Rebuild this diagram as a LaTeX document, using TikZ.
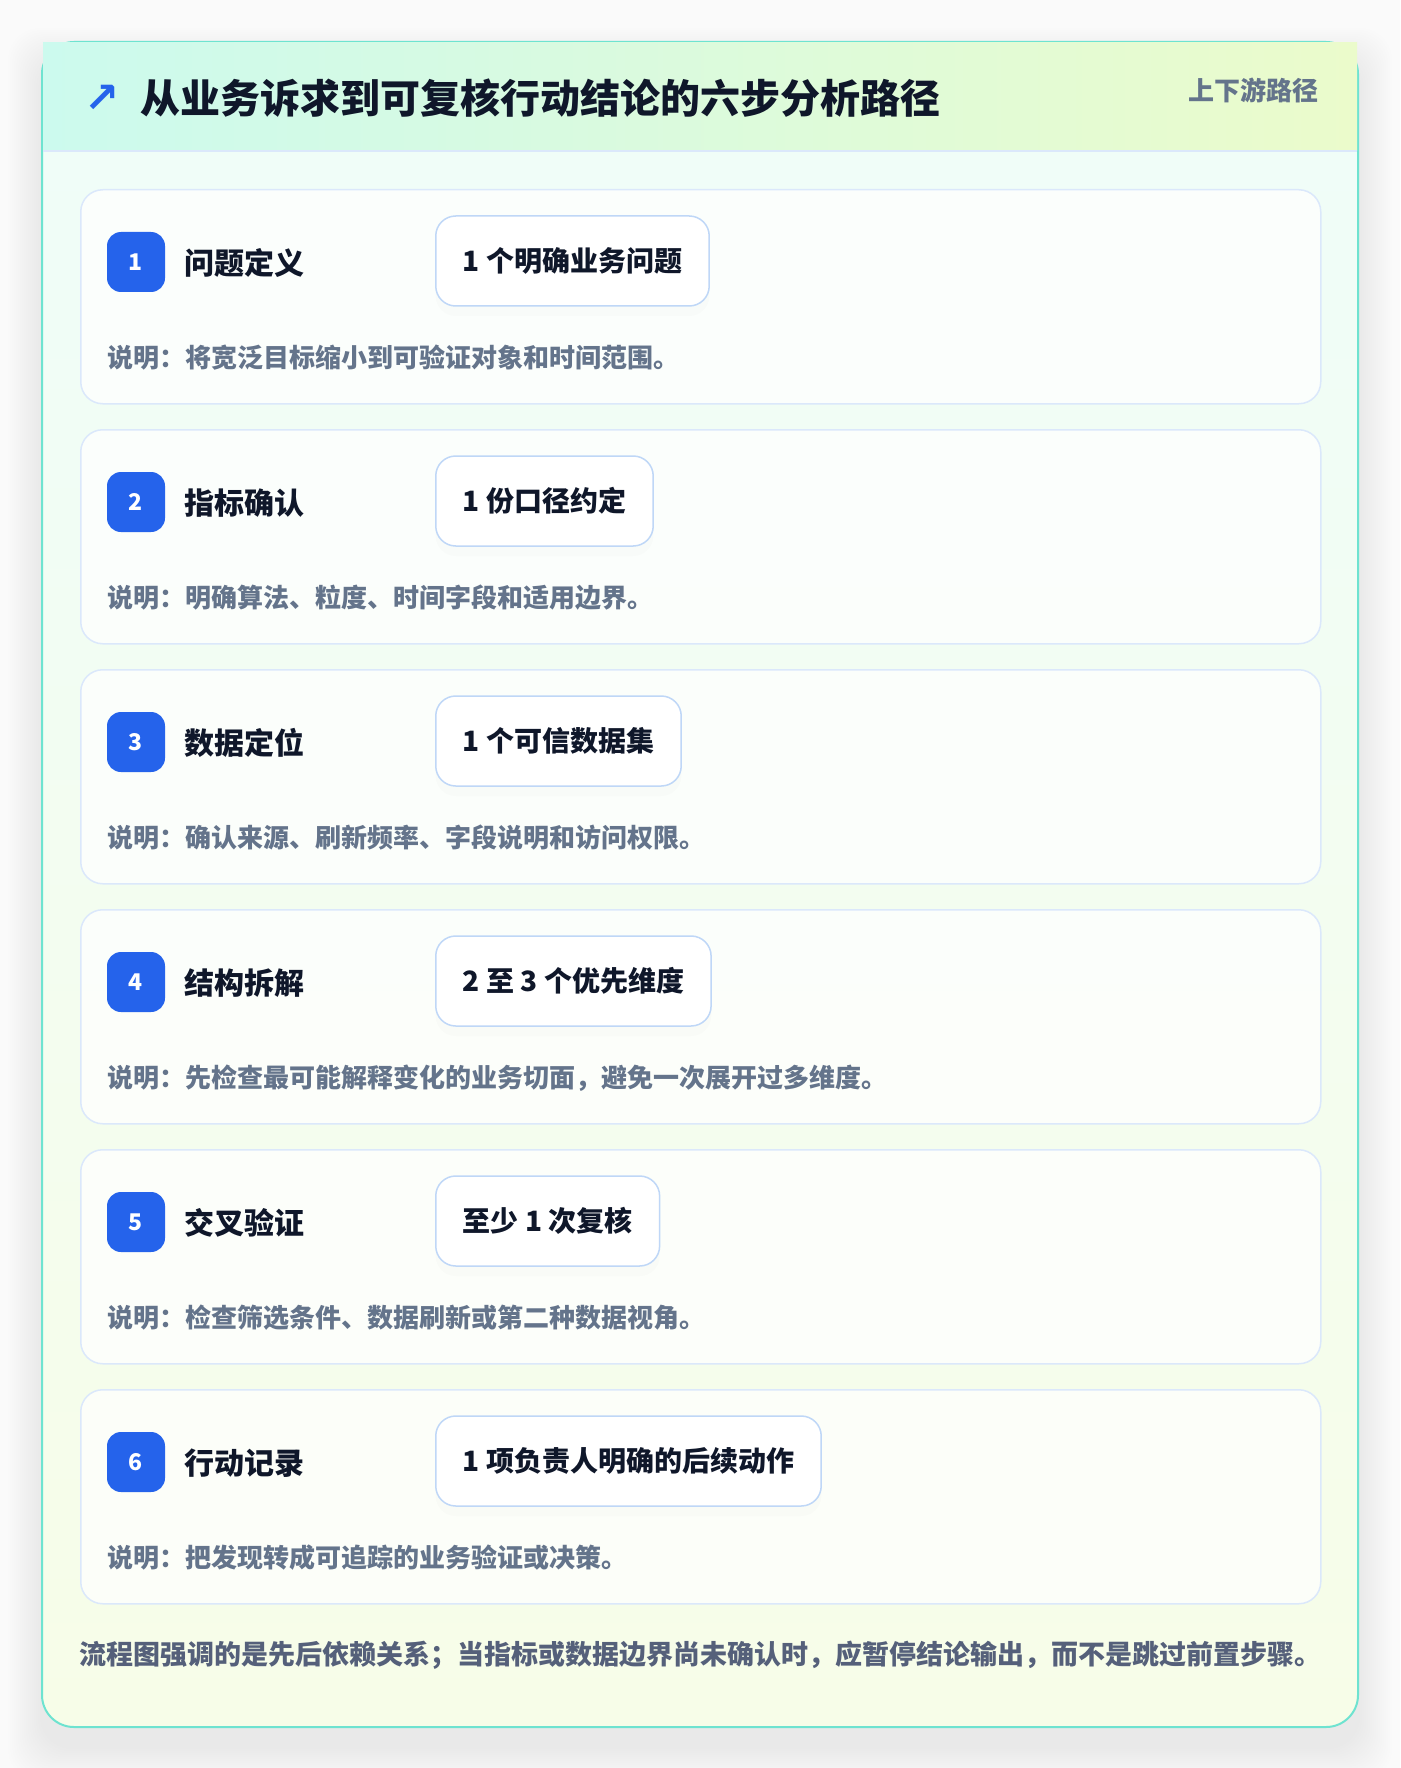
\documentclass[tikz,border=0pt]{standalone}
\usepackage{fontspec}
\setmainfont{Noto Sans CJK SC}
\newfontfamily\symfont{DejaVu Sans}
\usetikzlibrary{shadows}
\definecolor{pagebg}{HTML}{FAFAFA}
\definecolor{tealline}{HTML}{6EE3D0}
\definecolor{bodytop}{HTML}{EFFDF9}
\definecolor{bodybot}{HTML}{F7FDE8}
\definecolor{headl}{HTML}{CCFAEE}
\definecolor{headr}{HTML}{EBFBCB}
\definecolor{cardline}{HTML}{DBE8FB}
\definecolor{pillline}{HTML}{BFD7F7}
\definecolor{badgeblue}{HTML}{2563EB}
\definecolor{ink}{HTML}{0F172A}
\definecolor{slate}{HTML}{64748B}
\definecolor{notegray}{HTML}{55607A}
\tikzset{
  card/.style={draw=cardline, line width=1.5pt, fill=white, fill opacity=.75,
    rounded corners=22pt, minimum width=1240pt, minimum height=214pt,
    anchor=north west, inner sep=0pt},
  badge/.style={fill=badgeblue, rounded corners=14pt, minimum width=58pt,
    minimum height=60pt, inner sep=0pt, text=white,
    font=\bfseries\fontsize{23}{23}\selectfont},
  steptitle/.style={anchor=west, inner sep=0pt, text=ink,
    font=\bfseries\fontsize{30}{36}\selectfont},
  pillbox/.style={draw=pillline, line width=1.5pt, fill=white, rounded corners=20pt,
    minimum height=90pt, inner xsep=27pt, anchor=west, text=ink,
    font=\bfseries\fontsize{28}{34}\selectfont,
    drop shadow={opacity=.025, shadow xshift=0pt, shadow yshift=-10pt}},
  desc/.style={anchor=west, inner sep=0pt, text=slate,
    font=\bfseries\fontsize{26}{30}\selectfont}
}
\begin{document}
\begin{tikzpicture}[x=1pt,y=-1pt]
  \fill[pagebg] (0,0) rectangle (1400,1768);
  \useasboundingbox (0,0) rectangle (1400,1768);
  % soft shadow under the panel
  \foreach \s in {2,4,...,34}
    \fill[black, opacity=.005, rounded corners=32pt]
      ({42-\s},{62-\s}) rectangle ({1358+\s},{1747+\s});
  \shade[draw=tealline, line width=2pt, top color=bodytop, bottom color=bodybot,
    rounded corners=32pt] (42,42) rectangle (1358,1727);
  \shade[left color=headl, right color=headr] (43,43) rectangle (1357,151);
  \draw[cardline, line width=2pt] (43,151) -- (1357,151);
  \node[text=badgeblue, font=\symfont\bfseries\fontsize{42}{42}\selectfont, inner sep=0pt]
    (icon) at (102,99) {↗};
  \node[anchor=west, inner sep=0pt, text=ink, font=\bfseries\fontsize{40}{48}\selectfont]
    (title) at (140,98) {从业务诉求到可复核行动结论的六步分析路径};
  \node[anchor=east, inner sep=0pt, text=slate, font=\bfseries\fontsize{26}{30}\selectfont]
    (tag) at (1319,90) {上下游路径};
  % six steps
  \foreach \name/\pill/\desc [count=\n] in {
      问题定义/1 个明确业务问题/将宽泛目标缩小到可验证对象和时间范围。,
      指标确认/1 份口径约定/明确算法、粒度、时间字段和适用边界。,
      数据定位/1 个可信数据集/确认来源、刷新频率、字段说明和访问权限。,
      结构拆解/2 至 3 个优先维度/先检查最可能解释变化的业务切面，避免一次展开过多维度。,
      交叉验证/至少 1 次复核/检查筛选条件、数据刷新或第二种数据视角。,
      行动记录/1 项负责人明确的后续动作/把发现转成可追踪的业务验证或决策。}
  {
    \pgfmathsetmacro\top{189+240*(\n-1)}
    \node[card] (card\n) at (80,\top) {};
    \node[badge] (badge\n) at (136,{\top+73}) {\n};
    \node[steptitle] (name\n) at (184,{\top+74}) {\name};
    \node[pillbox] (pill\n) at (435,{\top+72}) {\pill};
    \node[desc] (desc\n) at (107,{\top+169}) {说明：\desc};
  }
  \node[anchor=west, inner sep=0pt, text=notegray, font=\bfseries\fontsize{27}{32}\selectfont]
    (note) at (79,1655) {流程图强调的是先后依赖关系；当指标或数据边界尚未确认时，应暂停结论输出，而不是跳过前置步骤。};
\end{tikzpicture}
\end{document}
